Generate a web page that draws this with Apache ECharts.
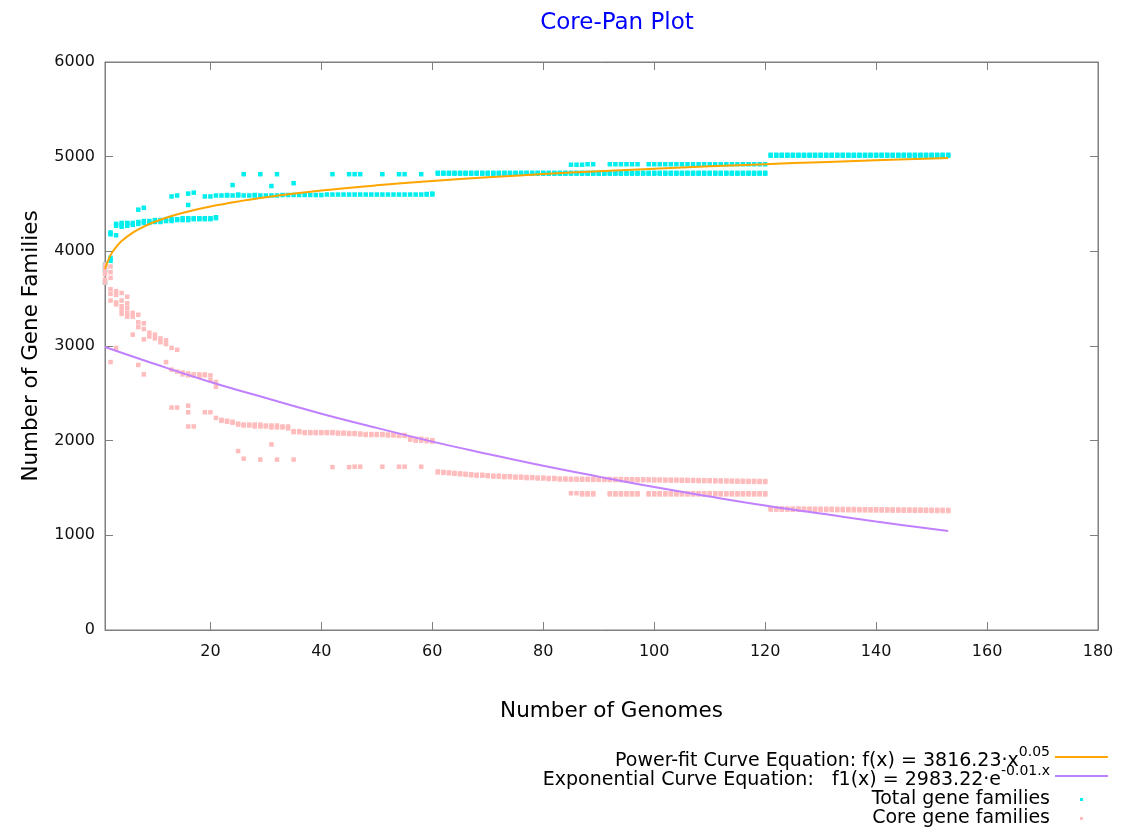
<!DOCTYPE html>
<html><head><meta charset="utf-8">
<script src="https://cdn.jsdelivr.net/npm/echarts@6/dist/echarts.min.js"></script>
<style>html,body{margin:0;padding:0;background:#fff}#c{width:1142px;height:829px}</style>
</head><body><div id="c"></div>
<script>
const chartTitle = 'Core-Pan Plot';
const xAxisTitle = 'Number of Genomes';
const yAxisTitle = 'Number of Gene Families';
const xTickValues = [20, 40, 60, 80, 100, 120, 140, 160, 180];
const seriesNames = ['Power-fit Curve Equation: f(x) = 3816.23·x^0.05', 'Exponential Curve Equation:   f1(x) = 2983.22·e^-0.01.x', 'Total gene families', 'Core gene families'];
const legendBase = ['Power-fit Curve Equation: f(x) = 3816.23·x', 'Exponential Curve Equation:   f1(x) = 2983.22·e', 'Total gene families', 'Core gene families'];
const legendSup = ['0.05', '-0.01.x', '', ''];

// index i -> number of genomes i+1
const totalFamilies = [
 [3860,3800,3670],[3900,3930,4180,4200],[4170,4270,4290],[4260,4280,4300],[4270,4290,4300],
 [4280,4300],[4290,4310,4440],[4300,4320,4460],[4300,4320],[4310,4330],
 [4310,4330],[4320,4340],[4320,4340,4580],[4330,4340,4590],[4330,4350],
 [4330,4350,4490,4610],[4340,4350,4620],[4340,4350],[4340,4350,4580],[4340,4350,4580],
 [4350,4360,4590],[4590],[4590,4595],[4590,4700],[4590,4600],
 [4590,4815],[4590],[4590,4595],[4590,4815],[4590],
 [4590,4690],[4590,4815],[4595],[4595],[4595,4720],
 [4595],[4595],[4595],[4595],[4595],
 [4600],[4600,4815],[4600],[4600],[4600,4815],
 [4600,4815],[4600,4815],[4600],[4600],[4600],
 [4600,4815],[4600],[4600],[4600,4815],[4600,4815],
 [4600],[4600],[4600,4815],[4600,4605],[4600,4610],
 [4820,4830],[4820,4830],[4820,4830],[4820,4830],[4820,4830],
 [4820,4830],[4820,4830],[4820,4830],[4820,4830],[4820,4830],
 [4820,4830],[4820,4830],[4820,4830],[4820,4830],[4820,4830],
 [4820,4830],[4820,4830],[4820,4830],[4820,4830],[4820,4830],
 [4820,4830],[4820,4830],[4820,4830],[4820,4830],[4820,4830,4915],
 [4820,4830,4915],[4820,4830,4915],[4820,4830,4920],[4820,4830,4920],[4820,4830],
 [4820,4830],[4820,4830,4920],[4820,4830,4920],[4820,4830,4920],[4820,4830,4920],
 [4820,4830,4920],[4820,4830,4920],[4820,4830],[4820,4830,4920],[4820,4830,4920],
 [4820,4830,4920],[4820,4830,4920],[4820,4830,4920],[4820,4830,4920],[4820,4830,4920],
 [4820,4830,4920],[4820,4830,4920],[4820,4830,4920],[4820,4830,4920],[4820,4830,4920],
 [4820,4830,4920],[4820,4830,4920],[4820,4830,4920],[4820,4830,4920],[4820,4830,4920],
 [4820,4830,4920],[4820,4830,4920],[4820,4830,4920],[4820,4830,4920],[4820,4830,4920],
 [5010,5020],[5010,5020],[5010,5020],[5010,5020],[5010,5020],
 [5010,5020],[5010,5020],[5010,5020],[5010,5020],[5010,5020],
 [5010,5020],[5010,5020],[5010,5020],[5010,5020],[5010,5020],
 [5010,5020],[5010,5020],[5010,5020],[5010,5020],[5010,5020],
 [5010,5020],[5010,5020],[5010,5020],[5010,5020],[5010,5020],
 [5010,5020],[5010,5020],[5010,5020],[5010,5020],[5010,5020],
 [5010,5020],[5010,5020],[5010,5020]
];

const coreFamilies = [
 [3860,3830,3800,3760,3700,3670],[3840,3780,3720,3600,3550,3480,2830],[3580,3540,3460,3440,2980],[3560,3480,3420,3380,3340],[3520,3450,3400,3350,3310],
 [3350,3310,3120],[3330,3250,3200,2800],[3240,3180,3070,2700],[3140,3100],[3120,3080],
 [3080,3040],[3060,3020,2830],[2980,2750,2350],[2960,2730,2350],[2720,2700],
 [2710,2690,2370,2300,2150],[2700,2690,2150],[2700,2680],[2700,2690,2300],[2690,2640,2300],
 [2620,2570,2240],[2220,2210],[2210,2200],[2200,2190],[2180,2170,1890],
 [2170,2160,1810],[2170,2160],[2170,2150],[2170,2150,1800],[2160,2150],
 [2160,2140,1960],[2160,2140,1800],[2150,2140],[2150,2130],[2100,2090,1800],
 [2100,2090],[2090,2080],[2090,2080],[2090,2080],[2090,2080],
 [2090,2080],[2090,2080,1720],[2085,2075],[2085,2075],[2080,2070,1720],
 [2080,2070,1725],[2075,2065,1725],[2070,2060],[2070,2060],[2070,2060],
 [2070,2060,1725],[2065,2055],[2065,2055],[2060,2050,1725],[2060,2050,1725],
 [2030,2010],[2020,2000],[2020,2000,1725],[2010,1995],[2005,1990],
 [1675,1665],[1670,1660],[1665,1655],[1660,1650],[1655,1645],
 [1650,1640],[1645,1635],[1640,1630],[1640,1630],[1635,1625],
 [1630,1620],[1630,1620],[1625,1615],[1625,1615],[1620,1610],
 [1620,1610],[1615,1605],[1615,1605],[1610,1600],[1610,1600],
 [1605,1595],[1605,1595],[1600,1590],[1600,1590],[1598,1588,1445],
 [1598,1588,1445],[1597,1587,1445,1432],[1597,1587,1445,1432],[1596,1586,1445,1432],[1596,1586],
 [1595,1585],[1595,1585,1445,1432],[1594,1584,1445,1432],[1594,1584,1445,1432],[1593,1583,1445,1432],
 [1593,1583,1445,1432],[1592,1582,1445,1432],[1592,1582],[1591,1581,1445,1432],[1590,1580,1445,1432],
 [1590,1580,1445,1432],[1589,1579,1445,1432],[1588,1578,1445,1432],[1588,1578,1445,1432],[1587,1577,1445,1432],
 [1586,1576,1445,1432],[1585,1575,1445,1432],[1584,1574,1445,1432],[1583,1573,1445,1432],[1582,1572,1445,1432],
 [1581,1571,1445,1432],[1580,1570,1445,1432],[1579,1569,1445,1432],[1578,1568,1445,1432],[1577,1567,1445,1432],
 [1576,1566,1445,1432],[1575,1565,1445,1432],[1575,1565,1445,1432],[1574,1564,1445,1432],[1573,1563,1445,1432],
 [1285,1272],[1285,1272],[1284,1271],[1284,1271],[1283,1270],
 [1283,1270],[1282,1269],[1282,1269],[1281,1268],[1281,1268],
 [1280,1267],[1280,1267],[1279,1266],[1279,1266],[1278,1265],
 [1278,1265],[1277,1264],[1277,1264],[1276,1263],[1276,1263],
 [1275,1262],[1275,1262],[1274,1261],[1274,1261],[1273,1260],
 [1273,1260],[1272,1259],[1272,1259],[1271,1258],[1271,1258],
 [1270,1257],[1270,1257],[1269,1256]
];

// fitted curves: [genomes, families]
const powerFitCurve = [[1,3816],[2,3960],[3,4045],[4,4108],[6,4197],[8,4262],[10,4312],[13,4373],[16,4421],[20,4474],[25,4527],[30,4572],[40,4642],[50,4697],[60,4743],[70,4782],[80,4816],[90,4846],[100,4873],[110,4898],[120,4921],[130,4942],[140,4961],[153,4985]];
const expFitCurve = [[1,2990],[10,2810],[20,2620],[30,2450],[40,2285],[50,2135],[60,1990],[70,1860],[80,1735],[90,1620],[100,1510],[110,1410],[120,1315],[130,1230],[140,1145],[153,1046]];

function toPoints(rows) {
  const pts = [];
  rows.forEach((vals, i) => vals.forEach(v => pts.push([i + 1, v])));
  return pts;
}

const FONT = 'DejaVu Sans';
const chart = echarts.init(document.getElementById('c'), null, {renderer: 'canvas'});
const axisGray = '#7f7f7f';
const legendIconDot = 'path://M0,0L0.1,0M25,5.5h3v3h-3zM53,14L53.1,14';
const legendIconLine = 'path://M0,0L0.1,0M0,1.5h53v2h-53zM53,14L53.1,14';

chart.setOption({
  animation: false,
  backgroundColor: '#ffffff',
  title: {
    text: chartTitle, left: 612, top: 7, textAlign: 'center',
    textStyle: {color: '#0000ff', fontFamily: FONT, fontSize: 23, fontWeight: 'normal'}
  },
  grid: {left: 105, right: 44, top: 62, bottom: 199, show: true, borderColor: axisGray, borderWidth: 1},
  legend: {
    orient: 'vertical', right: 34, top: 745, bottom: -60, align: 'right',
    itemWidth: 53, itemHeight: 14, itemGap: -7, padding: 0,
    data: [
      {name: seriesNames[0], icon: legendIconLine},
      {name: seriesNames[1], icon: legendIconLine},
      {name: seriesNames[2], icon: legendIconDot},
      {name: seriesNames[3], icon: legendIconDot}
    ],
    formatter: function (name) {
      const i = seriesNames.indexOf(name);
      return legendSup[i] ? '{t|' + legendBase[i] + '}{s|' + legendSup[i] + '}' : '{p|' + legendBase[i] + '}';
    },
    textStyle: {
      fontFamily: FONT, fontSize: 19, color: '#000',
      rich: {
        t: {fontFamily: FONT, fontSize: 19, color: '#000', lineHeight: 19, verticalAlign: 'bottom'},
        s: {fontFamily: FONT, fontSize: 14, color: '#000', lineHeight: 14, padding: [0, 0, 12, 0], verticalAlign: 'bottom'},
        p: {fontFamily: FONT, fontSize: 19, color: '#000', lineHeight: 19, padding: [7, 0, 0, 0], verticalAlign: 'bottom'}
      }
    }
  },
  xAxis: [{
    type: 'value', min: 1, max: 180, position: 'bottom',
    name: xAxisTitle, nameLocation: 'middle', nameGap: 70,
    nameTextStyle: {fontFamily: FONT, fontSize: 21.5, color: '#000', padding: [0, 0, 0, 20]},
    axisLine: {show: true, onZero: false, lineStyle: {color: axisGray}},
    axisTick: {show: true, inside: true, length: 8, customValues: xTickValues, lineStyle: {color: axisGray}},
    axisLabel: {customValues: xTickValues, fontFamily: FONT, fontSize: 16, color: '#111', margin: 14},
    splitLine: {show: false}
  }, {
    type: 'value', min: 1, max: 180, position: 'top',
    axisLine: {show: true, onZero: false, lineStyle: {color: axisGray}},
    axisTick: {show: true, inside: true, length: 8, customValues: xTickValues, lineStyle: {color: axisGray}},
    axisLabel: {show: false}, splitLine: {show: false}
  }],
  yAxis: [{
    type: 'value', min: 0, max: 6000, interval: 1000, position: 'left',
    name: yAxisTitle, nameLocation: 'middle', nameGap: 63,
    nameTextStyle: {fontFamily: FONT, fontSize: 21.5, color: '#000'},
    axisLine: {show: true, onZero: false, lineStyle: {color: axisGray}},
    axisTick: {show: true, inside: true, length: 8, lineStyle: {color: axisGray}},
    axisLabel: {fontFamily: FONT, fontSize: 16, color: '#111', margin: 10, formatter: v => String(v)},
    splitLine: {show: false}
  }, {
    type: 'value', min: 0, max: 6000, interval: 1000, position: 'right',
    axisLine: {show: true, onZero: false, lineStyle: {color: axisGray}},
    axisTick: {show: true, inside: true, length: 8, lineStyle: {color: axisGray}},
    axisLabel: {show: false}, splitLine: {show: false}
  }],
  series: [
    {
      name: seriesNames[2], type: 'scatter', data: toPoints(totalFamilies),
      symbol: 'rect', symbolSize: 4.5, itemStyle: {color: '#00eeee', opacity: 1}, z: 2
    },
    {
      name: seriesNames[3], type: 'scatter', data: toPoints(coreFamilies),
      symbol: 'rect', symbolSize: 4.5, itemStyle: {color: '#ffbcbc', opacity: 1}, z: 3
    },
    {
      name: seriesNames[0], type: 'line', data: powerFitCurve, smooth: 0.4,
      symbol: 'none', lineStyle: {color: '#ffa500', width: 2}, itemStyle: {color: '#ffa500'}, z: 4
    },
    {
      name: seriesNames[1], type: 'line', data: expFitCurve, smooth: 0.4,
      symbol: 'none', lineStyle: {color: '#c080ff', width: 2}, itemStyle: {color: '#c080ff'}, z: 4
    }
  ]
});
</script>
</body></html>
